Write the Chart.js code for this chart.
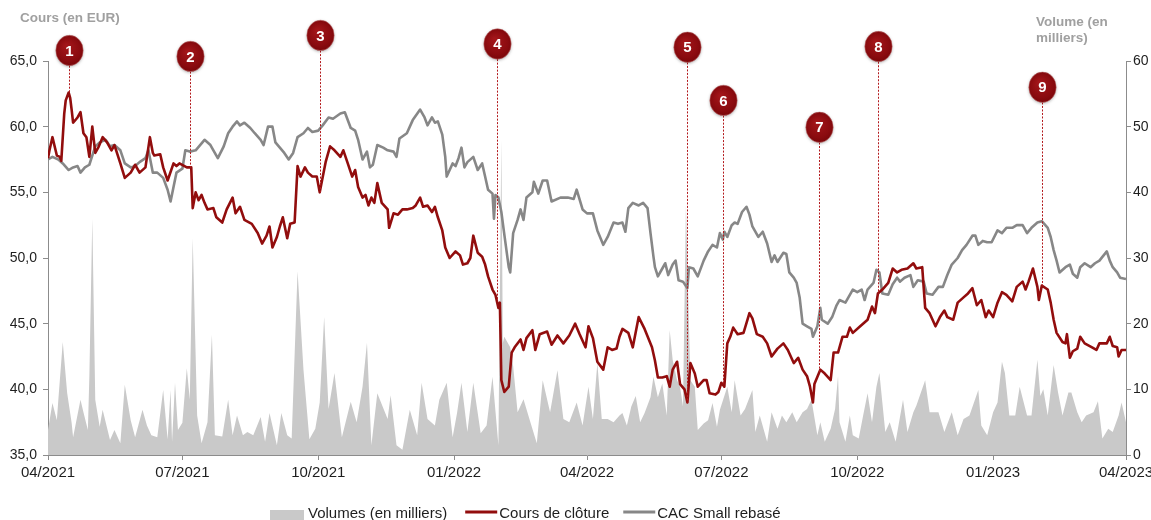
<!DOCTYPE html>
<html lang="fr">
<head>
<meta charset="utf-8">
<title>Cours de clôture vs CAC Small rebasé</title>
<script src="https://cdn.jsdelivr.net/npm/chart.js@4.4.0/dist/chart.umd.min.js"></script>
<style>
  html, body { margin: 0; padding: 0; background: #ffffff; }
  #wrap { width: 1151px; height: 520px; }
</style>
</head>
<body>
<div id="wrap"><canvas id="c" width="1151" height="520"></canvas></div>
<script>
// ---- x axis: days since 01/04/2021 ----
const tickDays   = [0, 91, 183, 275, 365, 456, 548, 640, 730];
const tickLabels = ['04/2021','07/2021','10/2021','01/2022','04/2022','07/2022','10/2022','01/2023','04/2023'];

// ---- Cours de clôture (EUR) ----
const priceDays = [
  0,1,3,6,8,9,11,12,14,15, 16,17,20,22,24,26,28,30,32,34,
  37,40,43,45,49,52,56,59,62,66, 69,71,72,76,78,81,85,87,89,94,
  97,98,100,102,104,106,108,112,114,118, 121,125,127,130,133,138,142,145,148,150,
  152,155,157,159,162,164,167,169,171,174, 176,179,182,184,188,191,194,198,200,203,
  206,208,210,213,215,217,219,221,223,226, 230,231,234,237,240,243,247,249,252,254,
  257,260,262,264,267,269,272,276,279,281, 284,286,288,291,294,296,298,301,303,305,
  306,307,309,312,314,316,320,322,324,328, 330,333,338,341,345,349,353,357,360,364,
  366,369,372,376,379,382,385,387,389,393, 396,400,404,409,411,413,416,419,421,423,
  426,428,431,433,435,438,440,444,446,448, 452,454,456,458,460,462,464,467,471,475,
  477,480,484,487,490,494,498,501,505,508, 511,514,516,518,519,523,526,530,532,535,
  538,541,543,545,550,555,558,560,562,565, 569,572,575,578,582,586,588,592,594,597,
  601,604,607,609,613,616,620,623,626,629, 632,635,637,640,643,646,649,653,656,660,
  662,664,667,670,671,673,677,679,681,683, 687,689,690,692,694,697,699,702,707,710,
  712,717,719,721,724,725,727,730
];
const priceValues = [
  57.6,58.2,59.2,57.8,57.7,57.4,61.0,62.0,62.6,62.2, 61.3,60.3,60.7,61.1,59.5,59.2,57.7,60.0,58.0,58.4,
  59.2,58.8,58.2,58.6,57.2,56.1,56.5,57.1,56.5,56.9, 59.2,58.0,57.8,57.9,56.9,55.9,57.2,57.0,57.2,56.9,
  56.9,53.8,55.0,54.4,54.8,54.2,53.7,53.8,53.1,52.7, 53.7,54.6,53.4,53.9,52.9,52.6,51.9,51.1,51.7,52.4,
  50.8,51.6,52.4,53.1,51.5,52.6,52.7,57.0,56.2,56.9, 56.5,56.2,56.2,55.0,57.3,58.5,58.2,57.7,58.2,57.2,
  56.2,56.7,55.4,54.6,54.8,54.0,54.6,54.2,55.7,54.2, 53.7,52.3,53.4,53.3,53.7,53.7,53.8,54.0,54.6,53.9,
  54.0,53.5,53.9,53.1,52.1,50.8,50.0,50.5,50.2,49.5, 49.6,50.0,51.7,50.4,50.1,49.5,48.6,47.6,47.2,46.2,
  46.6,40.7,39.8,40.2,42.8,43.2,43.8,43.0,43.9,44.5, 43.0,44.2,44.4,43.4,44.1,43.5,44.1,45.0,44.2,43.2,
  44.8,43.9,42.1,41.5,43.2,43.0,43.1,44.0,44.6,44.3, 43.2,45.5,44.6,43.2,42.2,40.9,40.9,41.0,40.2,41.5,
  42.1,40.4,40.0,39.0,42.0,41.2,40.2,40.7,40.7,39.7, 39.6,39.8,40.5,40.2,43.5,44.0,44.7,44.2,44.3,45.8,
  45.4,44.2,44.0,43.5,42.5,43.1,43.5,43.0,42.0,42.4, 41.5,41.0,40.2,39.0,40.4,41.5,41.2,40.7,42.8,42.8,
  44.0,44.0,44.7,44.3,44.8,45.3,46.3,45.8,47.3,47.6, 48.1,49.2,48.9,49.1,49.2,49.6,49.2,49.3,46.2,45.8,
  44.8,45.5,46.0,45.5,45.3,46.6,47.0,47.3,47.7,46.4, 46.8,45.5,46.0,45.5,46.6,47.4,47.2,46.7,47.8,48.2,
  47.6,48.2,49.2,47.8,46.8,47.9,47.6,46.6,45.3,44.3, 43.6,43.5,44.2,42.4,42.9,43.1,44.0,43.5,43.2,43.0,
  43.5,43.5,44.0,43.3,43.2,42.5,43.0,43.0
];

// ---- CAC Small rebasé ----
const cacDays = [
  0,3,7,10,14,17,20,22,25,28, 32,35,39,42,45,49,52,56,59,62,
  66,68,71,74,78,81,83,85,87,91, 93,96,100,103,106,110,112,115,119,122,
  125,128,130,133,137,140,144,146,149,152, 154,157,160,163,166,169,173,176,179,183,
  186,190,193,198,201,205,208,210,213,216, 218,220,223,227,230,234,236,238,243,247,
  252,255,257,260,262,264,267,269,270,274, 276,278,280,282,284,288,291,294,296,298,
  301,302,303,305,307,309,312,313,315,318, 320,322,324,328,329,332,335,338,341,347,
  352,356,358,362,365,369,372,376,379,383, 386,389,391,393,396,400,403,406,408,410,
  411,413,416,418,420,423,425,427,430,433, 434,437,440,444,447,450,453,455,457,458,
  460,463,465,467,470,473,475,477,481,484, 487,490,492,494,498,500,502,505,507,509,
  511,514,517,518,521,523,524,528,531,534, 536,540,545,548,551,553,555,559,561,563,
  565,569,572,575,577,580,584,586,589,593, 595,599,603,606,609,612,616,619,622,626,
  628,630,633,636,639,643,646,649,653,656, 660,663,666,670,673,677,679,681,683,685,
  689,692,694,697,699,702,706,709,712,717, 719,721,724,726,730
];
const cacValues = [
  57.5,57.7,57.5,57.2,56.7,56.9,57.0,56.5,56.9,57.1, 58.5,58.8,59.0,58.5,58.6,58.2,57.2,56.9,57.0,57.3,
  57.6,58.2,56.5,56.5,56.1,55.2,54.3,55.4,56.5,56.8, 58.2,58.1,58.2,58.6,59.0,58.6,58.2,57.6,58.5,59.5,
  60.0,60.4,60.1,60.3,59.9,59.5,59.0,58.6,60.0,60.0, 58.8,58.4,58.0,57.5,58.0,59.2,59.5,59.9,59.6,59.7,
  60.1,60.7,60.6,61.0,61.1,59.9,59.7,59.0,57.5,58.1, 56.9,57.1,58.6,58.4,58.2,58.1,57.7,59.1,59.5,60.5,
  61.3,60.7,60.1,60.7,60.3,60.4,59.4,57.7,56.2,57.2, 57.0,57.6,58.4,56.9,57.3,57.7,56.7,57.2,56.2,55.2,
  54.9,53.0,54.8,54.6,53.5,51.8,49.3,48.9,51.9,52.9, 53.7,52.9,54.6,55.0,55.8,54.9,55.9,55.9,54.3,54.6,
  54.6,54.5,55.2,53.7,53.4,53.4,52.1,51.0,51.6,52.7, 52.6,52.7,52.0,53.8,54.2,54.0,54.2,53.8,51.9,50.1,
  49.3,48.6,49.2,49.6,48.7,49.5,49.8,48.3,48.2,47.7, 49.3,49.2,48.6,49.8,50.5,51.0,50.8,51.9,51.4,52.0,
  51.6,52.5,52.7,52.6,53.5,53.9,53.3,52.4,51.6,52.0, 51.1,49.7,50.2,49.7,50.4,50.3,48.9,48.5,48.1,47.0,
  45.0,44.8,44.6,44.0,44.8,46.2,45.3,45.0,45.5,46.4, 46.8,46.6,47.6,47.4,47.6,46.8,47.6,48.1,49.1,48.9,
  47.3,47.2,48.0,48.5,48.2,48.5,48.7,47.8,48.3,48.2, 47.3,47.2,47.8,47.8,48.7,49.5,50.0,50.6,51.0,51.7,
  51.7,51.0,51.3,51.2,51.2,52.1,51.9,52.3,52.3,52.5, 52.5,51.9,52.3,52.7,52.8,52.3,51.6,50.6,49.8,48.9,
  49.3,49.5,48.8,48.5,49.3,49.6,49.3,49.6,49.8,50.5, 49.8,49.3,48.9,48.5,48.4
];

// ---- Volumes (en milliers) ----
const volDays = [
  0,3,6,7,10,13,16,17,22,24, 27,28,30,32,35,37,42,45,49,52,
  56,59,64,67,70,74,78,81,83,84, 86,88,91,94,96,98,101,104,108,111,
  113,118,122,125,128,132,135,139,144,147, 150,155,158,162,165,169,173,177,181,184,
  187,190,194,199,205,209,213,216,219,223, 230,232,236,240,245,250,253,257,262,265,
  270,274,277,280,284,288,293,297,301,305, 307,308,309,313,315,318,322,326,331,335,
  340,345,349,353,358,362,366,369,372,375, 379,383,387,389,392,395,398,401,404,408,
  410,413,416,419,421,423,426,428,430,432, 435,438,440,444,447,450,453,455,460,463,
  465,469,472,477,479,482,487,490,494,497, 500,504,507,511,514,517,521,523,526,530,
  533,535,536,540,543,545,549,552,555,558, 561,563,567,570,574,579,582,586,588,594,
  597,603,607,612,616,620,624,630,632,636, 640,643,646,648,651,655,658,663,666,670,
  672,674,677,681,684,687,691,693,697,700, 703,708,711,714,718,721,725,727,730
];
const volValues = [
  3.8,7.9,5.3,8.4,17.2,9.4,4.9,2.7,8.4,6.5, 3.8,11.9,36,8.4,4.3,6.9,2.3,3.8,1.8,10.7,
  5.3,2.7,6.9,4.5,3.0,2.7,9.9,2.4,9.9,2.0, 11.0,3.8,4.9,13.2,8.4,33,6.0,1.8,5.0,18.3,
  3.0,2.8,8.4,3.0,6.0,3.0,3.5,3.0,5.8,2.0, 6.4,1.5,6.4,3.0,2.5,28,13.0,2.4,4.0,8.0,
  21,7.0,12.5,2.7,8.1,5.0,10.4,17.1,1.5,9.4, 5.5,9.1,1.5,0.8,6.9,3.0,11.0,5.5,4.5,8.4,
  11.0,2.7,6.4,11.0,3.5,11.0,3.3,4.5,11.9,1.5, 48,17,18.0,16.4,13.5,6.5,8.5,5.5,1.8,11.4,
  6.5,12.9,5.5,5.0,8.0,4.5,10.4,5.5,14.0,5.5, 5.5,5.0,6.0,6.4,4.5,7.4,9.0,5.0,6.4,8.8,
  11.9,8.8,10.9,6.0,19.0,14.5,11.4,10.4,7.4,38, 11.4,10.4,3.8,4.8,5.3,7.9,4.3,6.9,10.4,6.5,
  11.4,6.0,7.0,9.9,3.5,6.0,2.0,6.5,4.0,6.0, 5.0,6.5,5.0,6.5,7.0,8.4,3.0,5.0,2.0,4.0,
  7.0,12,5.0,2.0,6.0,3.0,2.5,6.0,9.4,5.0, 10.4,12.5,3.5,5.0,2.0,8.4,3.5,6.5,7.5,11.4,
  6.5,6.5,3.5,6.5,3.0,5.5,6.0,9.9,4.5,3.0, 6.5,8.0,14.2,12.5,6.0,6.0,10.4,6.0,6.0,14.5,
  9.0,10.0,6.0,13.7,9.5,6.0,9.5,9.5,6.5,5.0, 6.0,6.5,8.2,2.5,4.0,3.5,6.0,8.0,5.0
];

// ---- Événements numérotés ----
const markerLabels = ['1','2','3','4','5','6','7','8','9'];
const markerDays   = [14, 96, 184, 304, 433, 457, 522, 562, 673];
const markerLevels = [65.8, 65.35, 66.95, 66.3, 66.05, 62.0, 59.95, 66.1, 63.0]; // bubble height, in EUR

const FONT = '"Liberation Sans", Arial, Helvetica, sans-serif';
const RED = '#920d0d';
const GREY_LINE = '#878787';
const GREY_AREA = '#c9c9c9';
const AXIS = '#8c8c8c';

function toPoints(days, vals) { return days.map((d, i) => ({ x: d, y: vals[i] })); }
function priceAt(d) {
  for (let i = 1; i < priceDays.length; i++) {
    if (priceDays[i] >= d) {
      const d0 = priceDays[i - 1], d1 = priceDays[i];
      const t = (d - d0) / (d1 - d0);
      return priceValues[i - 1] + t * (priceValues[i] - priceValues[i - 1]);
    }
  }
  return priceValues[priceValues.length - 1];
}
function noPad(s) { s.paddingLeft = 0; s.paddingRight = 0; s.paddingTop = 0; s.paddingBottom = 0; }

const markerPlugin = {
  id: 'markers',
  afterDatasetsDraw(chart) {
    const { ctx } = chart;
    const xs = chart.scales.x, ys = chart.scales.y;
    const RX = 13.7, RY = 15.2;
    markerDays.forEach((d, i) => {
      const px = Math.round(xs.getPixelForValue(d)) + 0.5;
      const by = ys.getPixelForValue(markerLevels[i]);
      const ey = ys.getPixelForValue(priceAt(d));
      ctx.save();
      ctx.strokeStyle = '#b3191c';
      ctx.lineWidth = 1;
      ctx.setLineDash([2, 1.5]);
      ctx.beginPath();
      ctx.moveTo(px, by + RY);
      ctx.lineTo(px, ey);
      ctx.stroke();
      ctx.setLineDash([]);
      const g = ctx.createRadialGradient(px - 3, by - 5, 1, px, by, RY + 1);
      g.addColorStop(0, '#a3161a');
      g.addColorStop(0.7, '#8a0b0f');
      g.addColorStop(1, '#760508');
      ctx.shadowColor = 'rgba(0,0,0,0.3)';
      ctx.shadowBlur = 3;
      ctx.shadowOffsetY = 1;
      ctx.beginPath();
      ctx.ellipse(px, by, RX, RY, 0, 0, Math.PI * 2);
      ctx.fillStyle = g;
      ctx.fill();
      ctx.shadowColor = 'transparent';
      ctx.strokeStyle = 'rgba(200,120,120,0.6)';
      ctx.lineWidth = 0.8;
      ctx.stroke();
      ctx.fillStyle = '#ffffff';
      ctx.font = 'bold 15px ' + FONT;
      ctx.textAlign = 'center';
      ctx.textBaseline = 'middle';
      ctx.fillText(markerLabels[i], px, by + 1);
      ctx.restore();
    });
  }
};

const decorPlugin = {
  id: 'decor',
  afterDraw(chart) {
    const { ctx } = chart;
    ctx.save();
    // axis titles
    ctx.fillStyle = '#a0a0a0';
    ctx.font = 'bold 13.5px ' + FONT;
    ctx.textAlign = 'left';
    ctx.textBaseline = 'middle';
    ctx.fillText('Cours (en EUR)', 20, 18);
    ctx.fillText('Volume (en', 1036, 22);
    ctx.fillText('milliers)', 1036, 38);
    // legend
    const items = chart.data.datasets;
    ctx.font = '15px ' + FONT;
    let x = 270;
    const ly = 513;
    items.forEach((ds, i) => {
      if (i === 0) {
        ctx.fillStyle = ds.backgroundColor;
        ctx.fillRect(x, ly - 3, 34, 10);
        x += 38;
      } else {
        ctx.strokeStyle = ds.borderColor;
        ctx.lineWidth = 3;
        ctx.beginPath();
        ctx.moveTo(x, ly - 1);
        ctx.lineTo(x + 32, ly - 1);
        ctx.stroke();
        x += 34;
      }
      ctx.fillStyle = '#1e1e1e';
      ctx.fillText(ds.label, x, ly + 1);
      x += ctx.measureText(ds.label).width + (i === 0 ? 18 : 14);
    });
    ctx.restore();
  }
};

new Chart(document.getElementById('c').getContext('2d'), {
  type: 'line',
  data: {
    datasets: [
      {
        label: 'Volumes (en milliers)',
        data: toPoints(volDays, volValues),
        yAxisID: 'yVol',
        fill: 'origin',
        backgroundColor: GREY_AREA,
        borderColor: GREY_AREA,
        borderWidth: 0,
        pointRadius: 0,
        tension: 0,
        order: 3
      },
      {
        label: 'Cours de clôture',
        data: toPoints(priceDays, priceValues),
        yAxisID: 'y',
        borderColor: RED,
        backgroundColor: RED,
        borderWidth: 2.6,
        pointRadius: 0,
        fill: false,
        tension: 0,
        borderJoinStyle: 'round',
        order: 1
      },
      {
        label: 'CAC Small rebasé',
        data: toPoints(cacDays, cacValues),
        yAxisID: 'y',
        borderColor: GREY_LINE,
        backgroundColor: GREY_LINE,
        borderWidth: 2.6,
        pointRadius: 0,
        fill: false,
        tension: 0,
        borderJoinStyle: 'round',
        order: 2
      }
    ]
  },
  options: {
    responsive: false,
    animation: false,
    events: [],
    layout: { padding: { top: 61, left: 0, right: 0, bottom: 0 } },
    plugins: { legend: { display: false }, tooltip: { enabled: false } },
    scales: {
      x: {
        type: 'linear',
        min: 0,
        max: 730,
        afterBuildTicks: s => { s.ticks = tickDays.map(v => ({ value: v })); },
        afterFit: s => { s.height = 65; noPad(s); },
        ticks: {
          autoSkip: false,
          maxRotation: 0,
          padding: 4,
          color: '#1e1e1e',
          font: { family: FONT, size: 15 },
          callback: v => tickLabels[tickDays.indexOf(v)]
        },
        grid: { drawOnChartArea: false, drawTicks: true, tickLength: 5, color: AXIS },
        border: { display: true, color: AXIS, width: 1 }
      },
      y: {
        position: 'left',
        min: 35,
        max: 65,
        afterFit: s => { s.width = 48; noPad(s); },
        ticks: {
          stepSize: 5,
          padding: 6,
          color: '#1e1e1e',
          font: { family: FONT, size: 14 },
          callback: v => v.toFixed(1).replace('.', ',')
        },
        grid: { drawOnChartArea: false, drawTicks: true, tickLength: 5, color: AXIS },
        border: { display: true, color: AXIS, width: 1 }
      },
      yVol: {
        position: 'right',
        min: 0,
        max: 60,
        afterFit: s => { s.width = 25; noPad(s); },
        ticks: {
          stepSize: 10,
          padding: 2,
          color: '#1e1e1e',
          font: { family: FONT, size: 14 },
          callback: v => String(v)
        },
        grid: { drawOnChartArea: false, drawTicks: true, tickLength: 5, color: AXIS },
        border: { display: true, color: AXIS, width: 1 }
      }
    }
  },
  plugins: [markerPlugin, decorPlugin]
});
</script>
</body>
</html>
